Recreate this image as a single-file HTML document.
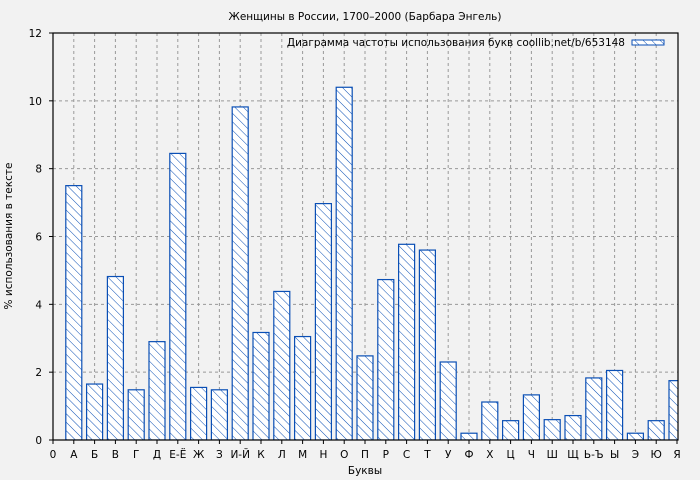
<!DOCTYPE html>
<html><head><meta charset="utf-8"><style>
html,body{margin:0;padding:0;background:#f2f2f2}
svg{display:block;font-family:"DejaVu Sans","Liberation Sans",sans-serif}
</style></head><body>
<svg width="700" height="480" xmlns="http://www.w3.org/2000/svg">
<defs>
<pattern id="h" patternUnits="userSpaceOnUse" width="6" height="6" patternTransform="rotate(-45)">
<rect width="6" height="6" fill="#fff"/>
<line x1="0" y1="0" x2="0" y2="6" stroke="#0a4fb5" stroke-width="1"/>
</pattern>
<clipPath id="c"><rect x="53" y="33" width="625" height="407"/></clipPath>
</defs>
<rect width="700" height="480" fill="#f2f2f2"/>
<text x="365" y="20" font-size="10.5" text-anchor="middle" fill="#000">Женщины в России, 1700–2000 (Барбара Энгель)</text>
<g id="grid" stroke="#999" stroke-dasharray="3,3" stroke-width="1"></g>
<g id="bars" clip-path="url(#c)"></g>
<rect x="53" y="33" width="625" height="407" fill="none" stroke="#000" stroke-width="1.2"/>
<g id="ticks" font-size="10.5" fill="#000"></g>
<text x="365" y="474" font-size="10.5" text-anchor="middle">Буквы</text>
<text transform="translate(12,236) rotate(-90)" font-size="10.5" text-anchor="middle">% использования в тексте</text>
<text x="625" y="46" font-size="10.5" text-anchor="end">Диаграмма частоты использования букв coollib.net/b/653148</text>
<rect x="632" y="40" width="32" height="5" fill="url(#h)" stroke="#0a4fb5" stroke-width="1"/>
<script>
var ns="http://www.w3.org/2000/svg";
function el(p,t,a,txt){var e=document.createElementNS(ns,t);for(var k in a)e.setAttribute(k,a[k]);if(txt!=null)e.textContent=txt;p.appendChild(e);return e;}
var L=["0","А","Б","В","Г","Д","Е-Ё","Ж","З","И-Й","К","Л","М","Н","О","П","Р","С","Т","У","Ф","Х","Ц","Ч","Ш","Щ","Ь-Ъ","Ы","Э","Ю","Я"];
var V=[7.5,1.65,4.82,1.48,2.9,8.45,1.55,1.48,9.82,3.17,4.38,3.05,6.97,10.4,2.48,4.73,5.77,5.6,2.3,0.2,1.12,0.57,1.33,0.6,0.72,1.83,2.05,0.2,0.57,1.75];
var x0=53,dx=(677-53)/30,y0=440,sy=407/12;
var g=document.getElementById("grid"),b=document.getElementById("bars"),t=document.getElementById("ticks");
for(var i=1;i<30;i++){var x=x0+i*dx;el(g,"line",{x1:x,y1:33,x2:x,y2:440});}
for(var v=2;v<12;v+=2){var y=y0-v*sy;el(g,"line",{x1:53,y1:y,x2:678,y2:y});}
for(var i=0;i<30;i++){var x=x0+(i+1)*dx,h=V[i]*sy;el(b,"rect",{x:x-8,y:y0-h,width:16,height:h,fill:"url(#h)",stroke:"#0a4fb5","stroke-width":1.2});}
for(var i=0;i<=30;i++){var x=x0+i*dx;el(t,"line",{x1:x,y1:440,x2:x,y2:444,stroke:"#000"});el(t,"text",{x:x,y:458,"text-anchor":"middle"},L[i]);}
for(var v=0;v<=12;v+=2){var y=y0-v*sy;el(t,"line",{x1:49,y1:y,x2:53,y2:y,stroke:"#000"});el(t,"text",{x:42,y:y+4,"text-anchor":"end"},String(v));}
</script>
</svg>
</body></html>
